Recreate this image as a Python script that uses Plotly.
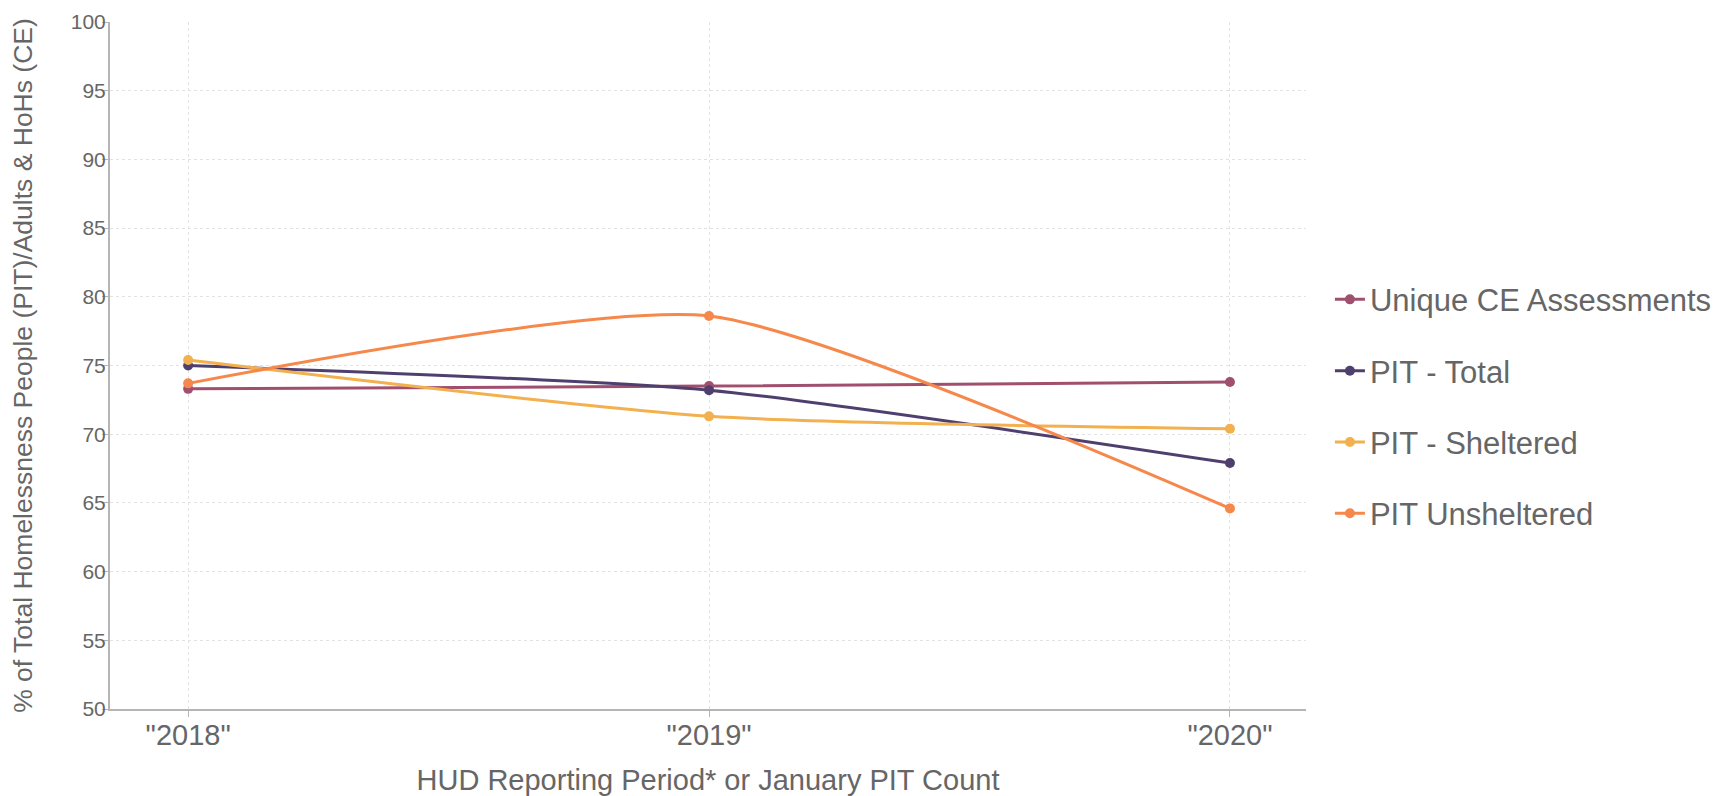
import plotly.graph_objs as go

years = ['"2018"', '"2019"', '"2020"']

unique_ce = [73.3, 73.5, 73.8]
pit_total = [75.0, 73.2, 67.9]
pit_sheltered = [75.4, 71.3, 70.4]
pit_unsheltered = [73.7, 78.6, 64.6]

series = [
    ('Unique CE Assessments', unique_ce, '#a0506e'),
    ('PIT - Total', pit_total, '#4f3f6e'),
    ('PIT - Sheltered', pit_sheltered, '#f2b04f'),
    ('PIT Unsheltered', pit_unsheltered, '#f5884a'),
]

fig = go.Figure()
for name, vals, color in series:
    fig.add_trace(go.Scatter(
        x=years,
        y=vals,
        mode='lines+markers',
        name=name,
        legendgroup=name,
        line=dict(color=color, width=3, shape='spline', smoothing=0.6),
        marker=dict(color=color, size=10),
    ))

grey = '#666666'

# page body has an 8px margin, so the figure is sized to fit inside the window
fig.update_layout(
    width=1712,
    height=788,
    font=dict(family='Liberation Sans, Arial, sans-serif', color=grey),
    plot_bgcolor='white',
    paper_bgcolor='white',
    margin=dict(l=102, r=414, t=14, b=87, autoexpand=False),
    xaxis=dict(
        title=dict(text='HUD Reporting Period* or January PIT Count',
                   font=dict(size=29, color=grey), standoff=21),
        type='category',
        range=[-0.15, 2.146],
        tickfont=dict(size=29, color=grey),
        ticklabelstandoff=-7,
        showline=True, linecolor='#b5b5b5', linewidth=2,
        ticks='outside', ticklen=6, tickcolor='#b5b5b5',
        showgrid=True, gridcolor='#e2e2e2', griddash='dot', gridwidth=1,
        zeroline=False, automargin=True,
    ),
    yaxis=dict(
        title=dict(text='% of Total Homelessness People (PIT)/Adults & HoHs (CE)',
                   font=dict(size=26.5, color=grey), standoff=30),
        range=[50, 100],
        dtick=5,
        tickfont=dict(size=21, color=grey),
        ticklabelstandoff=-8,
        showline=True, linecolor='#b5b5b5', linewidth=2,
        ticks='outside', ticklen=6, tickcolor='#b5b5b5',
        showgrid=True, gridcolor='#e2e2e2', griddash='dot', gridwidth=1,
        zeroline=False, automargin=True,
    ),
    legend=dict(
        x=1.02, y=0.44, xanchor='left', yanchor='middle',
        font=dict(size=31, color=grey),
        tracegroupgap=28,
        bgcolor='rgba(0,0,0,0)',
    ),
)

fig.write_html("out.html")
